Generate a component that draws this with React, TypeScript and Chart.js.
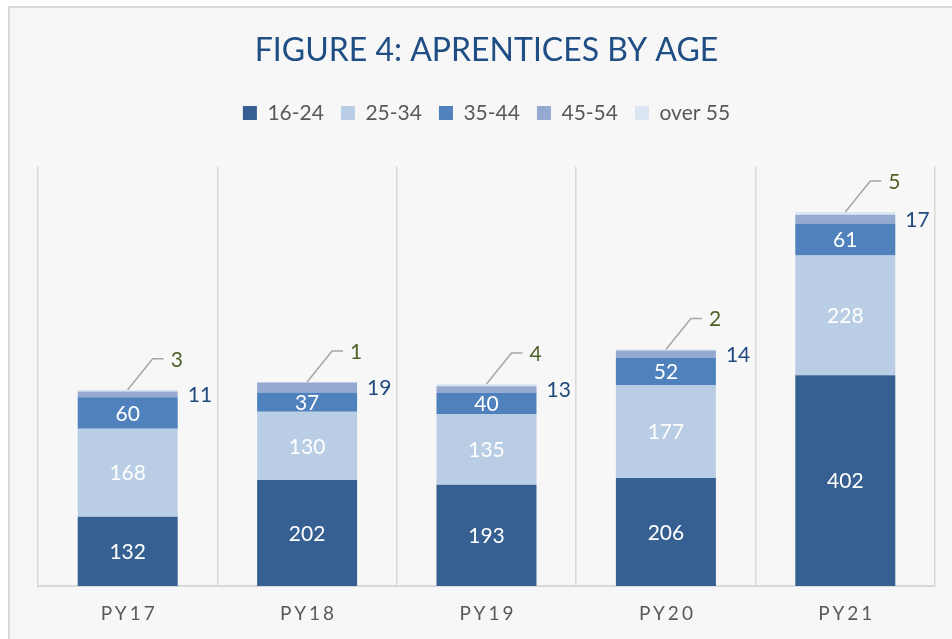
import React, { useEffect, useRef } from 'react';
import { Chart, registerables } from 'chart.js';

Chart.register(...registerables);

// ---- data ----
const categories = ['PY17', 'PY18', 'PY19', 'PY20', 'PY21'];
const seriesNames = ['16-24', '25-34', '35-44', '45-54', 'over 55'];
const age16to24 = [132, 202, 193, 206, 402];
const age25to34 = [168, 130, 135, 177, 228];
const age35to44 = [60, 37, 40, 52, 61];
const age45to54 = [11, 19, 13, 14, 17];
const ageOver55 = [3, 1, 4, 2, 5];
const seriesColors = ['#376092', '#b9cde5', '#4f81bd', '#95a9d1', '#dce6f2'];
const titleText = 'FIGURE 4: APRENTICES BY AGE';
const yMax = 800;

const FONT = 'Lato, "Open Sans", sans-serif';

const legendSpacer = {
  id: 'legendSpacer',
  beforeInit(chart: any) {
    const legend = chart.legend;
    if (!legend || legend._spaced) return;
    const origFit = legend.fit;
    legend.fit = function () {
      origFit.call(this);
      this.height += 33;
    };
    legend._spaced = true;
  },
};

const labelsPlugin = {
  id: 'customLabels',
  afterDatasetsDraw(chart: any) {
    const ctx = chart.ctx;
    ctx.save();
    ctx.font = `21px ${FONT}`;
    ctx.textBaseline = 'middle';
    chart.data.datasets.forEach((ds: any, d: number) => {
      const meta = chart.getDatasetMeta(d);
      meta.data.forEach((bar: any, i: number) => {
        const { x, y, base, width } = bar.getProps(['x', 'y', 'base', 'width'], true);
        const v = ds.data[i];
        const mid = (y + base) / 2;
        if (d <= 2) {
          ctx.fillStyle = '#ffffff';
          ctx.textAlign = 'center';
          ctx.fillText(String(v), x, mid + 1);
        } else if (d === 3) {
          ctx.fillStyle = '#1f497d';
          ctx.textAlign = 'left';
          ctx.fillText(String(v), x + width / 2 + 10, mid + 1);
        } else {
          const ty = y - 31;
          ctx.strokeStyle = '#a6a6a6';
          ctx.lineWidth = 1.5;
          ctx.beginPath();
          ctx.moveTo(x, y);
          ctx.lineTo(x + 25, ty);
          ctx.lineTo(x + 36, ty);
          ctx.stroke();
          ctx.fillStyle = '#4f6228';
          ctx.textAlign = 'left';
          ctx.fillText(String(v), x + 43, ty + 1);
        }
      });
    });
    ctx.restore();
  },
  afterDraw(chart: any) {
    const ctx = chart.ctx;
    const xs = chart.scales.x;
    ctx.save();
    ctx.font = `19px ${FONT}`;
    ctx.fillStyle = '#595959';
    ctx.textAlign = 'center';
    ctx.textBaseline = 'middle';
    (ctx as any).letterSpacing = '3px';
    categories.forEach((c, i) => {
      ctx.fillText(c, xs.getPixelForValue(i) + 1.5, 614);
    });
    ctx.restore();
  },
};

export default function App() {
  const ref = useRef<HTMLCanvasElement | null>(null);

  useEffect(() => {
    if (!ref.current) return;
    const values = [age16to24, age25to34, age35to44, age45to54, ageOver55];
    const chart = new Chart(ref.current, {
      type: 'bar',
      data: {
        labels: categories,
        datasets: seriesNames.map((name, k) => ({
          label: name,
          data: values[k],
          backgroundColor: seriesColors[k],
          borderWidth: 0,
          barPercentage: 100 / 179.4,
          categoryPercentage: 1,
        })),
      },
      options: {
        animation: false,
        responsive: false,
        devicePixelRatio: 1,
        layout: { padding: { left: 38, right: 17, top: 0, bottom: 53 } },
        plugins: {
          title: {
            display: true,
            text: titleText,
            color: '#1f4e84',
            font: { family: FONT, size: 32, weight: 'normal', lineHeight: 1.2 },
            padding: { top: 31, bottom: 16 },
          },
          legend: {
            display: true,
            position: 'top',
            labels: {
              color: '#595959',
              font: { family: FONT, size: 21 },
              boxWidth: 14,
              boxHeight: 14,
              padding: 17,
            },
          },
          tooltip: { enabled: false },
        },
        scales: {
          x: {
            stacked: true,
            offset: true,
            grid: {
              display: true,
              offset: true,
              color: '#d9d9d9',
              lineWidth: 1.5,
              drawTicks: false,
            },
            border: { display: true, color: '#d9d9d9', width: 2 },
            ticks: { display: false },
          },
          y: {
            stacked: true,
            display: false,
            min: 0,
            max: yMax,
          },
        },
      },
      plugins: [legendSpacer, labelsPlugin],
    });
    return () => chart.destroy();
  }, []);

  return (
    <div style={{ position: 'absolute', left: 0, top: 0, width: 952, height: 639, overflow: 'hidden', background: '#ffffff' }}>
      <div
        style={{
          position: 'absolute',
          left: 8,
          top: 6,
          width: 1000,
          height: 700,
          border: '2px solid #d9d9d9',
          background: '#f7f7f7',
        }}
      />
      <canvas ref={ref} width={952} height={639} style={{ position: 'absolute', left: 0, top: 0 }} />
    </div>
  );
}
